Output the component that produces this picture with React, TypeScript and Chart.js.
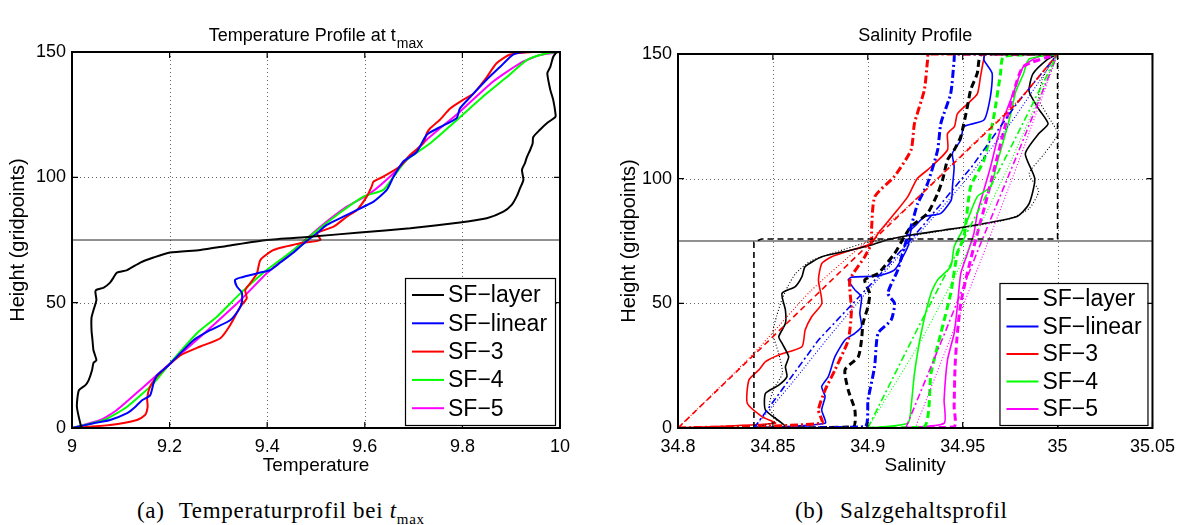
import React, { useEffect, useRef } from 'react';
import { Chart, registerables } from 'chart.js';
Chart.register(...registerables);

type Pt = [number, number];

// ---------- Panel (a): temperature ----------
const tempTicks = [9, 9.2, 9.4, 9.6, 9.8, 10];
const tempTickLabels = ['9', '9.2', '9.4', '9.6', '9.8', '10'];
const heightTicks = [0, 50, 100, 150];
const heightTickLabels = ['0', '50', '100', '150'];

const tempLayer: Pt[] = [
  [9.02, 0], [9.018, 1], [9.01, 8.5], [9.014, 15], [9.027, 17], [9.034, 19], [9.041, 23], [9.044, 26], [9.05, 27],
  [9.044, 31], [9.042, 35], [9.04, 39], [9.04, 44], [9.044, 47], [9.05, 51], [9.048, 54], [9.049, 55], [9.065, 56],
  [9.078, 58], [9.085, 60], [9.092, 62], [9.113, 63], [9.14, 66], [9.167, 68], [9.201, 70], [9.263, 71],
  [9.317, 72.6], [9.399, 75], [9.488, 76.3], [9.59, 78], [9.693, 79.7], [9.795, 82], [9.85, 83.7], [9.884, 86.3],
  [9.901, 89], [9.911, 92.3], [9.918, 95.6], [9.925, 99], [9.922, 103], [9.928, 105.6], [9.932, 108], [9.939, 111],
  [9.944, 113.6], [9.945, 116], [9.959, 119], [9.973, 121.6], [9.99, 124], [9.991, 125], [9.986, 131], [9.98, 135],
  [9.974, 141.5], [9.98, 144], [9.986, 148], [9.993, 150],
];
const tempLinear: Pt[] = [
  [9, 0], [9.044, 1.9], [9.078, 3.2], [9.113, 5.9], [9.13, 8.5], [9.143, 11], [9.16, 13], [9.167, 17.8], [9.174, 21],
  [9.195, 24.5], [9.222, 29.8], [9.249, 35], [9.283, 39], [9.324, 43], [9.341, 47], [9.348, 50], [9.348, 54],
  [9.338, 56.4], [9.334, 59], [9.345, 60], [9.386, 62], [9.406, 63], [9.427, 66], [9.454, 70], [9.481, 74.6],
  [9.502, 77.7], [9.522, 81], [9.556, 84.3], [9.584, 87], [9.618, 90.3], [9.645, 95], [9.659, 100.3], [9.679, 106.3],
  [9.706, 110], [9.727, 117], [9.754, 120], [9.788, 123.6], [9.795, 127.5], [9.816, 132], [9.85, 139], [9.877, 144],
  [9.904, 149], [9.932, 150], [10, 150],
];
const tempSF3: Pt[] = [
  [9, 0], [9.078, 1.2], [9.133, 3.2], [9.15, 5.2], [9.155, 8.5], [9.154, 11.8], [9.16, 16.5], [9.174, 20.5],
  [9.195, 24.5], [9.222, 29], [9.263, 32.5], [9.304, 35.8], [9.324, 41], [9.345, 48.4], [9.358, 51.7], [9.355, 55],
  [9.365, 57.7], [9.379, 61.7], [9.386, 67], [9.413, 71], [9.468, 73.7], [9.509, 75], [9.502, 77.7], [9.536, 80.3],
  [9.563, 84.3], [9.584, 87], [9.604, 92.3], [9.614, 96.3], [9.618, 98.3], [9.638, 100.3], [9.672, 104.3],
  [9.693, 109], [9.72, 113.6], [9.727, 117.6], [9.734, 119.6], [9.754, 123], [9.775, 127.5], [9.802, 131],
  [9.823, 133.5], [9.85, 140], [9.87, 145.5], [9.898, 149], [9.945, 150], [10, 150],
];
const tempSF4: Pt[] = [
  [9, 0], [9.065, 3.2], [9.113, 8.5], [9.167, 17.8], [9.201, 25.8], [9.256, 37.8], [9.297, 44.4], [9.345, 53.7],
  [9.399, 63], [9.454, 71], [9.495, 77.7], [9.543, 85], [9.597, 92.3], [9.638, 95], [9.659, 100.3], [9.686, 107],
  [9.734, 113.6], [9.795, 124], [9.85, 133.5], [9.891, 140], [9.932, 146.8], [9.973, 149.5], [10, 150],
];
const tempSF5: Pt[] = [
  [9, 0], [9.058, 3.2], [9.092, 7.2], [9.147, 16.5], [9.201, 25.8], [9.263, 36.4], [9.345, 51], [9.399, 61.7],
  [9.454, 71], [9.509, 80.3], [9.563, 88.3], [9.611, 93.6], [9.659, 101.6], [9.727, 115], [9.795, 126.2],
  [9.863, 138.2], [9.918, 145.5], [9.959, 148.8], [10, 150],
];
const tempInterface: Pt[] = [[9, 75], [10, 75]];

// ---------- Panel (b): salinity ----------
const salTicks = [34.8, 34.85, 34.9, 34.95, 35, 35.05];
const salTickLabels = ['34.8', '34.85', '34.9', '34.95', '35', '35.05'];

const salLayerInit: Pt[] = [[34.84, 0], [34.84, 74.5], [34.844, 75.8], [35.0, 75.8], [35.0, 150]];
const salLayer: Pt[] = [
  [34.84, 0], [34.8566, 0.5], [34.8461, 7.2], [34.8461, 13.9], [34.8531, 17.2], [34.8574, 20.6], [34.8566, 24.6],
  [34.8583, 28.6], [34.8548, 34], [34.8531, 36.6], [34.8566, 42], [34.8566, 47.3], [34.8548, 54], [34.8618, 56.7],
  [34.8653, 60.7], [34.867, 64.7], [34.8758, 68.7], [34.8914, 71.4], [34.9019, 73.4], [34.91, 75.4], [34.9228, 77.4],
  [34.9402, 79.4], [34.9525, 80.8], [34.9786, 84.8], [34.985, 90], [34.988, 100], [34.983, 110], [34.99, 118],
  [34.995, 122], [34.99, 128], [34.985, 135], [34.987, 142], [34.995, 148], [35.0, 150],
];
const salLayerDot: Pt[] = [
  [34.84, 0], [34.852, 3], [34.848, 8], [34.85, 15], [34.855, 22], [34.853, 30], [34.85, 38], [34.852, 45],
  [34.855, 52], [34.858, 57], [34.862, 62], [34.87, 67], [34.885, 71], [34.9, 74.5], [34.93, 78], [34.96, 81.5],
  [34.975, 84], [34.985, 88], [34.99, 95], [34.985, 102], [34.993, 110], [35.0, 118], [34.995, 125], [34.99, 132],
  [34.992, 140], [34.997, 147], [35.0, 150],
];
const salLayerThick: Pt[] = [
  [34.84, 0], [34.8923, 0.5], [34.8932, 7.2], [34.8897, 15.2], [34.888, 23.3], [34.895, 28.6], [34.8967, 35.3],
  [34.8975, 42], [34.9001, 48.7], [34.901, 54], [34.8984, 59.4], [34.9054, 62], [34.9141, 70], [34.9193, 76.7],
  [34.9228, 80.8], [34.9315, 86.1], [34.9368, 94], [34.9394, 99.5], [34.942, 107.5], [34.9455, 111.5],
  [34.949, 116.9], [34.9525, 129], [34.9542, 135.6], [34.9577, 142.3], [34.9586, 147.6], [34.96, 150], [35.0, 150],
];
const salLinear: Pt[] = [
  [34.84, 0], [34.8775, 1.9], [34.8757, 7.2], [34.8775, 12.6], [34.8757, 16.6], [34.8792, 20.6], [34.8827, 28.6],
  [34.888, 35.3], [34.8932, 38], [34.8967, 40.6], [34.8958, 46], [34.8967, 52.6], [34.8932, 55.4], [34.8897, 59.4],
  [34.8915, 60.5], [34.9054, 61], [34.9141, 63.4], [34.9211, 72.7], [34.9228, 79.4], [34.9246, 80.8], [34.93, 84.8],
  [34.9385, 86.1], [34.944, 91.5], [34.9446, 96.8], [34.9455, 104.8], [34.9446, 110.2], [34.949, 115.5],
  [34.9507, 120.9], [34.9612, 123.5], [34.9646, 132.9], [34.9655, 142.3], [34.9612, 147.6], [34.962, 150], [35.0, 150],
];
const salLinearThick: Pt[] = [
  [34.84, 0], [34.8984, 0.5], [34.9001, 11.2], [34.9036, 24.6], [34.9054, 38], [34.9123, 43.3], [34.9141, 50],
  [34.9106, 54], [34.9158, 63.4], [34.9193, 72.7], [34.9228, 80.8], [34.9263, 90], [34.9315, 98.1], [34.9368, 111.5],
  [34.9385, 122.2], [34.9437, 134.2], [34.9455, 147.6], [34.946, 150], [35.0, 150],
];
const salLinearInit: Pt[] = [[34.84, 0], [34.874, 35.3], [34.9054, 60.7], [34.93, 82], [34.955, 105], [34.9786, 130.2], [35.0, 150]];
const salLinearDot: Pt[] = [[34.84, 0], [34.86, 18], [34.88, 37], [34.9, 55], [34.92, 72], [34.95, 98], [34.975, 122], [35.0, 150]];
const salSF3: Pt[] = [
  [34.8, 0], [34.8513, 1.9], [34.8444, 4.5], [34.8365, 9.9], [34.8374, 19.3], [34.8426, 23.3], [34.8461, 26.6],
  [34.8531, 29.3], [34.8653, 32.6], [34.867, 39.3], [34.8705, 44.7], [34.8758, 50], [34.874, 59.4], [34.8758, 66],
  [34.881, 68.7], [34.8914, 71.4], [34.9019, 74], [34.9054, 78], [34.9141, 86], [34.9211, 92.8], [34.926, 100],
  [34.9315, 103.5], [34.942, 111.5], [34.942, 118], [34.9457, 121], [34.9472, 126], [34.9525, 130], [34.9577, 134],
  [34.9594, 141], [34.961, 147.6], [34.962, 150], [35.0, 150],
];
const salSF3Thick: Pt[] = [
  [34.8, 0], [34.8758, 1.9], [34.874, 7.2], [34.8775, 15.2], [34.8827, 23.3], [34.8897, 35.3], [34.8914, 47.3],
  [34.8906, 59.4], [34.8984, 68.7], [34.9019, 74.1], [34.902, 80], [34.9037, 92.8], [34.9141, 101], [34.9228, 111.5],
  [34.9246, 122.2], [34.9298, 135.6], [34.9315, 147.6], [34.932, 150], [35.0, 150],
];
const salSF3Init: Pt[] = [[34.8, 0], [34.9017, 74.5], [34.9786, 130.3], [35.0, 150]];
const salSF3Dot: Pt[] = [[34.8, 0], [34.84, 30], [34.87, 55], [34.895, 72], [34.92, 88], [34.95, 110], [34.98, 132], [35.0, 150]];
const salSF4: Pt[] = [
  [34.9, 0], [34.9211, 1.9], [34.9228, 8.6], [34.9246, 21.9], [34.9281, 38], [34.9333, 54], [34.9368, 59.4],
  [34.9437, 64.7], [34.9455, 72.7], [34.949, 78], [34.9525, 83.4], [34.9577, 92.8], [34.9647, 96.8], [34.9681, 106.2],
  [34.9716, 115.5], [34.975, 125], [34.978, 135], [34.982, 142], [34.985, 148], [35.0, 150],
];
const salSF4Thick: Pt[] = [
  [34.9, 0], [34.9298, 0.5], [34.9333, 21.9], [34.9385, 38], [34.9437, 54], [34.9472, 70], [34.9507, 76.7],
  [34.9542, 96.8], [34.9612, 107.5], [34.9664, 124.9], [34.9699, 142], [34.9716, 149], [35.0, 150],
];
const salSF4Init: Pt[] = [[34.9, 0], [34.925, 38], [34.95, 75], [34.975, 112], [35.0, 150]];
const salSF4Dot: Pt[] = [[34.9, 0], [34.928, 35], [34.952, 70], [34.976, 108], [35.0, 150]];
const salSF5: Pt[] = [
  [34.92, 0], [34.9402, 1.9], [34.9402, 11.2], [34.942, 27.3], [34.9455, 38], [34.9472, 48.7], [34.949, 62],
  [34.9525, 70], [34.9559, 78], [34.9577, 86], [34.9612, 95.5], [34.9647, 104.8], [34.968, 115], [34.972, 125],
  [34.977, 135], [34.982, 145], [34.99, 149], [35.0, 150],
];
const salSF5Thick: Pt[] = [
  [34.92, 0], [34.9455, 0.5], [34.9455, 8.6], [34.946, 25], [34.9472, 38], [34.949, 50], [34.9524, 62], [34.9577, 78],
  [34.962, 90], [34.967, 105], [34.972, 120], [34.977, 135], [34.982, 145], [35.0, 150],
];
const salSF5Init: Pt[] = [[34.92, 0], [34.94, 37], [34.96, 75], [34.98, 112], [35.0, 150]];
const salSF5Dot: Pt[] = [[34.925, 0], [34.943, 35], [34.962, 72], [34.981, 110], [35.0, 150]];
const salInterface: Pt[] = [[34.8, 75], [35.05, 75]];

const legendLabels = ['SF\u2212layer', 'SF\u2212linear', 'SF\u22123', 'SF\u22124', 'SF\u22125'];

const BLACK = '#000000';
const BLUE = '#0000ff';
const RED = '#ff0000';
const GREEN = '#00ff00';
const MAGENTA = '#ff00ff';
const legendColors = [BLACK, BLUE, RED, GREEN, MAGENTA];

const FONT = "'Liberation Sans', Arial, Helvetica, sans-serif";

const STY: Record<string, { borderWidth: number; borderDash: number[] }> = {
  main: { borderWidth: 2, borderDash: [] },
  solid: { borderWidth: 1.6, borderDash: [] },
  thick: { borderWidth: 3, borderDash: [7, 4] },
  thickDD: { borderWidth: 3, borderDash: [8, 3, 2, 3] },
  dash: { borderWidth: 1.6, borderDash: [6, 4] },
  dashDot: { borderWidth: 1.6, borderDash: [7, 3, 2, 3] },
  dot: { borderWidth: 1.1, borderDash: [1, 2] },
  iface: { borderWidth: 1, borderDash: [] },
};

function ds(label: string, pts: Pt[], color: string, style: string, tension = 0.2) {
  return {
    label,
    data: pts.map(([x, y]) => ({ x, y })),
    borderColor: color,
    backgroundColor: color,
    borderWidth: STY[style].borderWidth,
    borderDash: STY[style].borderDash,
    pointRadius: 0,
    showLine: true,
    fill: false,
    tension,
  };
}

const matlabPlugin = {
  id: 'matlab',
  beforeDatasetsDraw(chart: any) {
    const { ctx, chartArea: a, scales } = chart;
    const x = scales.x;
    const y = scales.y;
    ctx.save();
    ctx.strokeStyle = 'rgba(0,0,0,0.6)';
    ctx.lineWidth = 1;
    ctx.setLineDash([1, 3]);
    for (const t of x.ticks) {
      const px = Math.round(x.getPixelForValue(t.value)) + 0.5;
      if (px <= a.left + 2 || px >= a.right - 2) continue;
      ctx.beginPath();
      ctx.moveTo(px, a.top);
      ctx.lineTo(px, a.bottom);
      ctx.stroke();
    }
    for (const t of y.ticks) {
      const py = Math.round(y.getPixelForValue(t.value)) + 0.5;
      if (py <= a.top + 2 || py >= a.bottom - 2) continue;
      ctx.beginPath();
      ctx.moveTo(a.left, py);
      ctx.lineTo(a.right, py);
      ctx.stroke();
    }
    ctx.restore();
  },
  afterDatasetsDraw(chart: any, _args: any, o: any) {
    const { ctx, chartArea: a, scales } = chart;
    const x = scales.x;
    const y = scales.y;
    ctx.save();
    ctx.setLineDash([]);
    ctx.strokeStyle = '#000';
    ctx.lineWidth = 1.2;
    const tl = 6;
    for (const t of x.ticks) {
      const px = x.getPixelForValue(t.value);
      ctx.beginPath();
      ctx.moveTo(px, a.bottom);
      ctx.lineTo(px, a.bottom - tl);
      ctx.moveTo(px, a.top);
      ctx.lineTo(px, a.top + tl);
      ctx.stroke();
    }
    for (const t of y.ticks) {
      const py = y.getPixelForValue(t.value);
      ctx.beginPath();
      ctx.moveTo(a.left, py);
      ctx.lineTo(a.left + tl, py);
      ctx.moveTo(a.right, py);
      ctx.lineTo(a.right - tl, py);
      ctx.stroke();
    }
    ctx.lineWidth = 2;
    ctx.strokeRect(a.left, a.top, a.right - a.left, a.bottom - a.top);

    const lg = o.legend;
    const bx = a.right - lg.right - lg.width;
    const by = a.bottom - lg.bottom - lg.height;
    ctx.fillStyle = '#fff';
    ctx.fillRect(bx, by, lg.width, lg.height);
    ctx.lineWidth = 1.2;
    ctx.strokeStyle = '#000';
    ctx.strokeRect(bx + 0.5, by + 0.5, lg.width, lg.height);
    ctx.font = `${lg.fontSize}px ${FONT}`;
    ctx.textBaseline = 'middle';
    ctx.textAlign = 'left';
    legendLabels.forEach((lab, i) => {
      const cy = by + lg.firstRow + i * lg.rowStep;
      ctx.strokeStyle = legendColors[i];
      ctx.lineWidth = 2;
      ctx.beginPath();
      ctx.moveTo(bx + 7, cy);
      ctx.lineTo(bx + 39, cy);
      ctx.stroke();
      ctx.fillStyle = '#000';
      ctx.fillText(lab, bx + 43, cy + 1);
    });
    ctx.restore();
  },
  afterDraw(chart: any, _args: any, o: any) {
    const { ctx, chartArea: a } = chart;
    ctx.save();
    ctx.fillStyle = '#000';
    const cx = (a.left + a.right) / 2;
    ctx.textBaseline = 'alphabetic';
    ctx.textAlign = 'left';
    ctx.font = `18px ${FONT}`;
    const w1 = ctx.measureText(o.title).width;
    let w2 = 0;
    if (o.titleSub) {
      ctx.font = `14px ${FONT}`;
      w2 = ctx.measureText(o.titleSub).width + 1;
    }
    const sx = cx - (w1 + w2) / 2;
    ctx.font = `18px ${FONT}`;
    ctx.fillText(o.title, sx, 41);
    if (o.titleSub) {
      ctx.font = `14px ${FONT}`;
      ctx.fillText(o.titleSub, sx + w1 + 1, 48);
    }
    ctx.font = `19px ${FONT}`;
    ctx.textAlign = 'center';
    ctx.textBaseline = 'middle';
    ctx.fillText(o.xTitle, cx, 466);
    ctx.translate(o.yTitleX, (a.top + a.bottom) / 2);
    ctx.rotate(-Math.PI / 2);
    ctx.font = `20px ${FONT}`;
    ctx.fillText(o.yTitle, 0, 0);
    ctx.restore();
  },
};

function baseOptions(opts: {
  xMin: number; xMax: number; xTicks: number[]; xLabels: string[];
  padLeftAxis: number; padRight: number; padTop: number; plugin: any;
}) {
  return {
    responsive: false,
    maintainAspectRatio: false,
    animation: false,
    events: [],
    layout: { padding: { left: 0, right: opts.padRight, top: opts.padTop, bottom: 0 } },
    plugins: {
      legend: { display: false },
      tooltip: { enabled: false },
      title: { display: false },
      matlab: opts.plugin,
    },
    scales: {
      x: {
        type: 'linear',
        min: opts.xMin,
        max: opts.xMax,
        afterBuildTicks: (s: any) => { s.ticks = opts.xTicks.map((v) => ({ value: v })); },
        afterFit: (s: any) => { s.height = 52; },
        ticks: {
          callback: (_v: any, i: number) => opts.xLabels[i],
          font: { family: FONT, size: 18 },
          color: '#000',
          padding: 8,
          maxRotation: 0,
          autoSkip: false,
        },
        grid: { display: false, drawTicks: false },
        border: { display: false },
      },
      y: {
        type: 'linear',
        min: 0,
        max: 150,
        afterBuildTicks: (s: any) => { s.ticks = heightTicks.map((v) => ({ value: v })); },
        afterFit: (s: any) => { s.width = opts.padLeftAxis; },
        ticks: {
          callback: (_v: any, i: number) => heightTickLabels[i],
          font: { family: FONT, size: 18 },
          color: '#000',
          padding: 6,
          autoSkip: false,
        },
        grid: { display: false, drawTicks: false },
        border: { display: false },
      },
    },
  };
}

export default function App() {
  const leftRef = useRef<HTMLCanvasElement>(null);
  const rightRef = useRef<HTMLCanvasElement>(null);

  useEffect(() => {
    const left = new Chart(leftRef.current as HTMLCanvasElement, {
      type: 'scatter',
      data: {
        datasets: [
          ds('interface', tempInterface, '#222222', 'iface', 0),
          ds(legendLabels[0], tempLayer, BLACK, 'main'),
          ds(legendLabels[1], tempLinear, BLUE, 'main'),
          ds(legendLabels[2], tempSF3, RED, 'main'),
          ds(legendLabels[3], tempSF4, GREEN, 'main'),
          ds(legendLabels[4], tempSF5, MAGENTA, 'main'),
        ],
      },
      options: baseOptions({
        xMin: 9, xMax: 10, xTicks: tempTicks, xLabels: tempTickLabels,
        padLeftAxis: 72, padRight: 40, padTop: 52,
        plugin: {
          title: 'Temperature Profile at t', titleSub: 'max',
          xTitle: 'Temperature', yTitle: 'Height (gridpoints)', yTitleX: 18,
          legend: { width: 150, height: 147, right: 5, bottom: 3, firstRow: 17, rowStep: 28.3, fontSize: 23 },
        },
      }) as any,
      plugins: [matlabPlugin],
    });

    const right = new Chart(rightRef.current as HTMLCanvasElement, {
      type: 'scatter',
      data: {
        datasets: [
          ds('SF-3 init', salSF3Init, RED, 'dash', 0),
          ds('SF-3 dot', salSF3Dot, RED, 'dot', 0.2),
          ds('SF-linear init', salLinearInit, BLUE, 'dashDot', 0),
          ds('SF-linear dot', salLinearDot, BLUE, 'dot', 0.2),
          ds('SF-4 init', salSF4Init, GREEN, 'dashDot', 0),
          ds('SF-4 dot', salSF4Dot, GREEN, 'dot', 0.2),
          ds('SF-5 init', salSF5Init, MAGENTA, 'dashDot', 0),
          ds('SF-5 dot', salSF5Dot, MAGENTA, 'dot', 0.2),
          ds('SF-layer init', salLayerInit, BLACK, 'dash', 0),
          ds('SF-layer dot', salLayerDot, BLACK, 'dot', 0.2),
          ds('SF-3 thick', salSF3Thick, RED, 'thickDD', 0.2),
          ds('SF-linear thick', salLinearThick, BLUE, 'thickDD', 0.2),
          ds('SF-layer thick', salLayerThick, BLACK, 'thick', 0.2),
          ds('SF-4 thick', salSF4Thick, GREEN, 'thick', 0.2),
          ds('SF-5 thick', salSF5Thick, MAGENTA, 'thick', 0.2),
          ds('interface', salInterface, '#222222', 'iface', 0),
          ds(legendLabels[0], salLayer, BLACK, 'solid', 0.2),
          ds(legendLabels[1], salLinear, BLUE, 'solid', 0.2),
          ds(legendLabels[2], salSF3, RED, 'solid', 0.2),
          ds(legendLabels[3], salSF4, GREEN, 'solid', 0.2),
          ds(legendLabels[4], salSF5, MAGENTA, 'solid', 0.2),
        ],
      },
      options: baseOptions({
        xMin: 34.8, xMax: 35.05, xTicks: salTicks, xLabels: salTickLabels,
        padLeftAxis: 78, padRight: 27, padTop: 54,
        plugin: {
          title: 'Salinity Profile', titleSub: '',
          xTitle: 'Salinity', yTitle: 'Height (gridpoints)', yTitleX: 29,
          legend: { width: 148, height: 142, right: 5, bottom: 3, firstRow: 16, rowStep: 27.5, fontSize: 23 },
        },
      }) as any,
      plugins: [matlabPlugin],
    });

    return () => {
      left.destroy();
      right.destroy();
    };
  }, []);

  const captionStyle: React.CSSProperties = {
    position: 'absolute',
    top: 497,
    font: "23px 'Liberation Serif', 'Times New Roman', serif",
    letterSpacing: '0.7px',
    whiteSpace: 'nowrap',
    lineHeight: '28px',
    color: '#000',
  };

  return (
    <div style={{ position: 'absolute', left: 0, top: 0, width: 1183, height: 525, background: '#fff', overflow: 'hidden' }}>
      <canvas ref={leftRef} width={600} height={480} style={{ position: 'absolute', left: 0, top: 0 }} />
      <canvas ref={rightRef} width={583} height={480} style={{ position: 'absolute', left: 600, top: 0 }} />
      <div style={{ ...captionStyle, left: 137 }}>
        (a)<span style={{ marginLeft: 14 }}>Temperaturprofil bei <i>t</i><sub style={{ fontSize: 15, lineHeight: 0 }}>max</sub></span>
      </div>
      <div style={{ ...captionStyle, left: 795 }}>
        (b)<span style={{ marginLeft: 16 }}>Salzgehaltsprofil</span>
      </div>
    </div>
  );
}
